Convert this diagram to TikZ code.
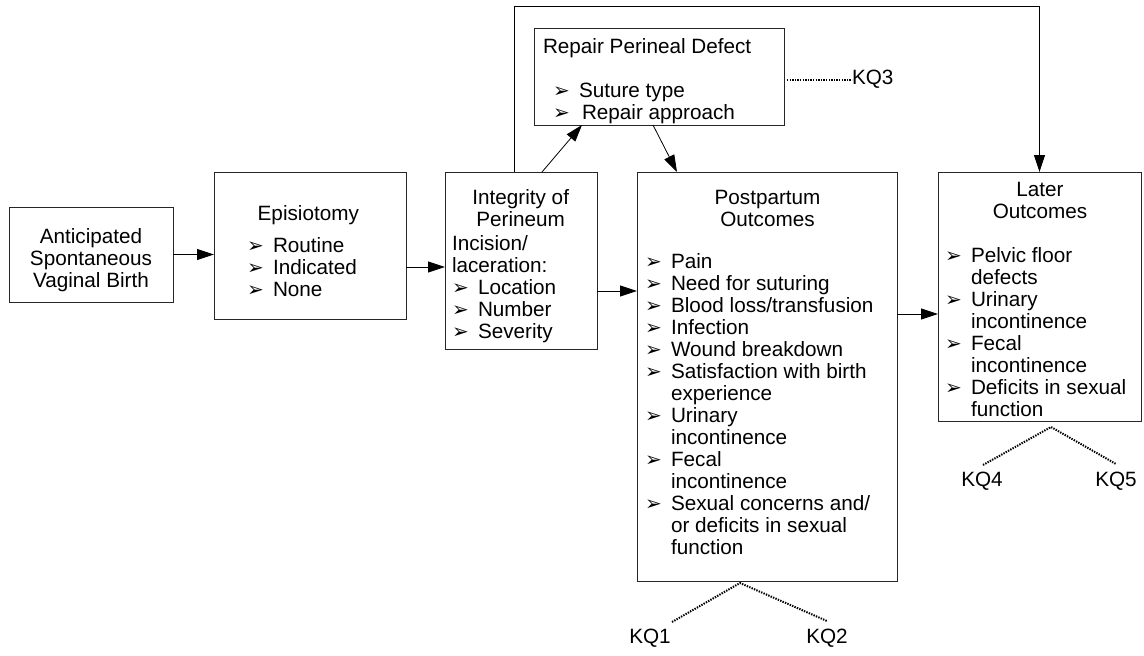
\documentclass[tikz,border=0pt]{standalone}
\usepackage{fontspec}
\setmainfont{Liberation Sans}
\newfontfamily\djv{DejaVu Sans}
\usetikzlibrary{arrows.meta,calc}
\newcommand\bulx{{\djv\fontsize{20}{20}\selectfont ➢}}
\newcommand\bi[1]{\makebox[26pt][l]{\bulx}#1}
\newcommand\ci[1]{\hspace*{26pt}#1}
\begin{document}
\begin{tikzpicture}[x=1pt,y=-1pt,
  box/.style={draw=black!85, line width=0.8pt, anchor=north west, inner sep=0pt, outer sep=0pt},
  txt/.style={inner sep=0pt, outer sep=0pt, font=\fontsize{20.7}{22}\selectfont},
  arr/.style={line width=0.8pt, -{Triangle[length=17pt,width=11pt]}},
  dots/.style={line width=2pt, dash pattern=on 1.4pt off 1.2pt}]
\useasboundingbox[fill=white] (0,0) rectangle (1144,656);

% boxes
\node[box, minimum width=164pt, minimum height=95pt] (b1) at (9,207) {};
\node[box, minimum width=192pt, minimum height=147pt] (b2) at (214,172) {};
\node[box, minimum width=152pt, minimum height=177pt] (b3) at (445,172) {};
\node[box, minimum width=250pt, minimum height=97pt] (rep) at (534,28) {};
\node[box, minimum width=260pt, minimum height=409pt] (post) at (637,172) {};
\node[box, minimum width=203pt, minimum height=249pt] (later) at (938,172) {};

% texts (anchor = baseline of the last line)
\node[txt, align=center, anchor=base] (t1) at (91,287) {Anticipated\\Spontaneous\\Vaginal Birth};
\node[txt, anchor=base] (t2a) at (308.3,220) {Episiotomy};
\node[txt, align=left, anchor=base west] (t2b) at (247,296) {\bi{Routine}\\\bi{Indicated}\\\bi{None}};
\node[txt, align=center, anchor=base] (t3a) at (520.7,226) {Integrity of\\Perineum};
\node[txt, align=left, anchor=base west] (t3b) at (452,338.5) {Incision/\\laceration:\\\bi{Location}\\\bi{Number}\\\bi{Severity}};
\node[txt, anchor=base west] (tra) at (543,53) {Repair Perineal Defect};
\node[txt, align=left, anchor=base west] (trb) at (553,119.5) {\bi{Suture type}\\\makebox[29pt][l]{\bulx}Repair approach};
\node[txt, align=center, anchor=base] (tpa) at (767.5,226) {Postpartum\\Outcomes};
\node[txt, align=left, anchor=base west] (tpb) at (645,554.5) {\bi{Pain}\\\bi{Need for suturing}\\\bi{Blood loss/transfusion}\\\bi{Infection}\\\bi{Wound breakdown}\\\bi{Satisfaction with birth}\\\ci{experience}\\\bi{Urinary}\\\ci{incontinence}\\\bi{Fecal}\\\ci{incontinence}\\\bi{Sexual concerns and/}\\\ci{or deficits in sexual}\\\ci{function}};
\node[txt, align=center, anchor=base] (tla) at (1040,218) {Later\\Outcomes};
\node[txt, align=left, anchor=base west] (tlb) at (945,416.5) {\bi{Pelvic floor}\\\ci{defects}\\\bi{Urinary}\\\ci{incontinence}\\\bi{Fecal}\\\ci{incontinence}\\\bi{Deficits in sexual}\\\ci{function}};

% KQ labels
\node[txt, anchor=base west] (kq3) at (852,84) {KQ3};
\node[txt, anchor=base] (kq1) at (650,643) {KQ1};
\node[txt, anchor=base] (kq2) at (827,643) {KQ2};
\node[txt, anchor=base] (kq4) at (982,486) {KQ4};
\node[txt, anchor=base] (kq5) at (1116,486) {KQ5};

% arrows
\draw[arr] (b1.east) -- (b2.west |- b1.east);
\draw[arr] ($(b2.north east)+(0,95)$) -- ($(b3.north west)+(0,95)$);
\draw[arr] ($(b3.north east)+(0,119)$) -- ($(post.north west)+(0,119)$);
\draw[arr] ($(post.north east)+(0,142)$) -- ($(later.north west)+(0,142)$);
\draw[arr] ($(b3.north west)+(97,0)$) -- ($(rep.south west)+(48,0)$);
\draw[arr] ($(rep.south west)+(119,0)$) -- ($(post.north west)+(40,0)$);
\coordinate (loopc) at (1039.5,6);
\draw[arr] ($(b3.north west)+(69,0)$) |- (loopc) -- (later.north);

% dotted KQ links
\draw[dots] ($(rep.east)+(3,3.5)$) -- ($(kq3.base west)+(0,-4)$);
\coordinate (ap1) at ($(post.south west)+(103,2)$);
\coordinate (e1) at (672,622);
\coordinate (e2) at (827,621);
\draw[dots] (e1) -- (ap1) -- (e2);
\coordinate (ap2) at ($(later.south west)+(113,6)$);
\coordinate (e4) at (983,465);
\coordinate (e5) at (1116,464);
\draw[dots] (e4) -- (ap2) -- (e5);
\end{tikzpicture}
\end{document}
